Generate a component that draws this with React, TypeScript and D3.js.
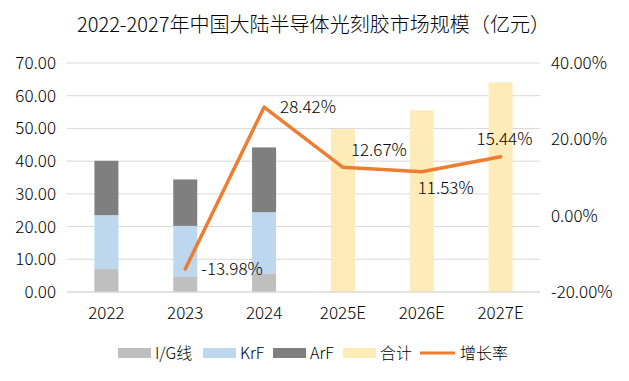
import React from "react";
import * as d3 from "d3";

const categories = ["2022", "2023", "2024", "2025E", "2026E", "2027E"];
const igValues = [7.0, 4.8, 5.7, null, null, null];
const krfValues = [16.5, 15.4, 18.7, null, null, null];
const arfValues = [16.6, 14.2, 19.8, null, null, null];
const totalValues = [null, null, null, 49.8, 55.5, 64.1];
const growthValues = [null, -13.98, 28.42, 12.67, 11.53, 15.44];
const leftTicks = [0, 10, 20, 30, 40, 50, 60, 70];
const rightTicks = [-20, 0, 20, 40];

const W = 629, H = 381;
const FONT = "'Noto Sans CJK SC', 'Noto Sans', sans-serif";
const colors = { ig: "#BFBFBF", krf: "#BDD7EE", arf: "#7F7F7F", total: "#FFEBB7", line: "#ED7D31" };

// label offsets (dx, dy) relative to point
const labelPos: [number, number][] = [[0, 0], [16, 0], [16, 0], [8, -17], [-4, 16], [-24, -18]];

export default function App() {
  const left = 67, right = 540, top = 63, bottom = 292;
  const x = d3.scaleBand<string>().domain(categories).range([left, right]);
  const yL = d3.scaleLinear().domain([0, 70]).range([bottom, top]);
  const yR = d3.scaleLinear().domain([-20, 40]).range([bottom, top]);
  const bw = 24;
  const cx = (c: string) => (x(c) as number) + x.bandwidth() / 2;

  const stacks = categories.map((c, i) => {
    const segs: { y0: number; y1: number; color: string }[] = [];
    let acc = 0;
    ([[igValues[i], colors.ig], [krfValues[i], colors.krf], [arfValues[i], colors.arf]] as [number | null, string][]).forEach(([v, col]) => {
      if (v != null) { segs.push({ y0: acc, y1: acc + v, color: col }); acc += v; }
    });
    return segs;
  });

  const linePts = categories.map((c, i) => ({ c, v: growthValues[i] })).filter(d => d.v != null) as { c: string; v: number }[];
  const line = d3.line<{ c: string; v: number }>().x(d => cx(d.c)).y(d => yR(d.v));

  const legend = [
    { label: "I/G线", color: colors.ig, x: 118, type: "rect" },
    { label: "KrF", color: colors.krf, x: 203, type: "rect" },
    { label: "ArF", color: colors.arf, x: 273, type: "rect" },
    { label: "合计", color: colors.total, x: 343, type: "rect" },
    { label: "增长率", color: colors.line, x: 420, type: "line" },
  ];

  return (
    <svg width={W} height={H} style={{ position: "absolute", left: 0, top: 0, fontFamily: FONT, fontWeight: 300 }}>
      <rect width={W} height={H} fill="#fff" />
      <text x={313.5} y={32} textAnchor="middle" fontSize={20} fill="#000" textLength={473} lengthAdjust="spacingAndGlyphs">2022-2027年中国大陆半导体光刻胶市场规模（亿元）</text>
      {leftTicks.map(t => (
        <g key={t}>
          <line x1={left} x2={right} y1={yL(t)} y2={yL(t)} stroke="#D9D9D9" strokeWidth={1} />
          <text x={56} y={yL(t)} dy="0.35em" textAnchor="end" fontSize={17} fill="#000">{t.toFixed(2)}</text>
        </g>
      ))}
      {rightTicks.map(t => (
        <text key={t} x={551} y={yR(t)} dy="0.35em" textAnchor="start" fontSize={17} fill="#000">{t.toFixed(2)}%</text>
      ))}
      {categories.map((c, i) => (
        <g key={c}>
          {stacks[i].map((s, j) => (
            <rect key={j} x={cx(c) - bw / 2} width={bw} y={yL(s.y1)} height={yL(s.y0) - yL(s.y1)} fill={s.color} />
          ))}
          {totalValues[i] != null && (
            <rect x={cx(c) - bw / 2} width={bw} y={yL(totalValues[i] as number)} height={yL(0) - yL(totalValues[i] as number)} fill={colors.total} />
          )}
          <text x={cx(c)} y={313} dy="0.35em" textAnchor="middle" fontSize={17} fill="#000">{c}</text>
        </g>
      ))}
      <line x1={left} x2={right} y1={bottom} y2={bottom} stroke="#D9D9D9" />
      <path d={line(linePts) || ""} fill="none" stroke={colors.line} strokeWidth={3.5} strokeLinejoin="round" strokeLinecap="round" />
      {linePts.map(d => {
        const i = categories.indexOf(d.c);
        const [dx, dy] = labelPos[i];
        return (
          <text key={d.c} x={cx(d.c) + dx} y={yR(d.v) + dy} dy="0.35em" textAnchor="start" fontSize={17} fill="#000">{d.v.toFixed(2)}%</text>
        );
      })}
      {legend.map(l => (
        <g key={l.label}>
          {l.type === "rect"
            ? <rect x={l.x} y={348} width={33} height={10} fill={l.color} />
            : <line x1={l.x} x2={l.x + 35} y1={353} y2={353} stroke={l.color} strokeWidth={3} />}
          <text x={l.x + (l.type === "rect" ? 37 : 40)} y={353} dy="0.35em" fontSize={16} fill="#000">{l.label}</text>
        </g>
      ))}
    </svg>
  );
}
